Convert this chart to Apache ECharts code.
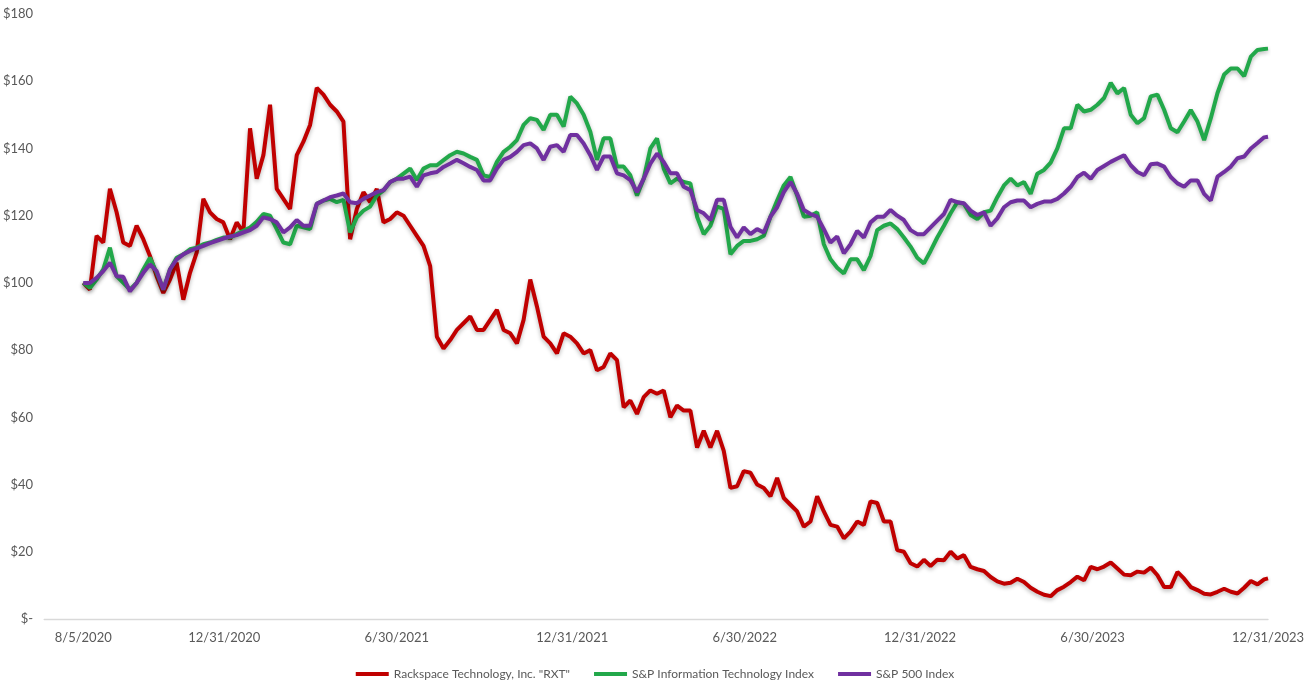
<!DOCTYPE html>
<html>
<head>
<meta charset="utf-8">
<script src="https://cdn.jsdelivr.net/npm/echarts@6/dist/echarts.min.js"></script>
<style>
html,body{margin:0;padding:0;background:#fff;}
#chart{width:1310px;height:688px;}
</style>
</head>
<body>
<div id="chart"></div>
<script>
// Weekly observations starting 8/5/2020, last point 12/31/2023
const startDate = [2020, 8, 5];
const endDate = [2023, 12, 31];
const stepDays = 7;

const seriesNames = ['Rackspace Technology, Inc. "RXT"', 'S&P Information Technology Index', 'S&P 500 Index'];

const rxt = [
  100, 98, 114, 112, 128, 121, 112, 111, 117, 113,
  108, 102, 97, 101, 106, 95, 103, 109, 125, 121,
  119, 118, 113, 118, 115, 146, 131, 138, 153, 128,
  125, 122, 138, 142, 147, 158, 156, 153, 151, 148,
  113, 122, 127, 124, 128, 118, 119, 121, 120, 117,
  114, 111, 105, 84, 80.5, 83, 86, 88, 90, 86,
  86, 89, 92, 86, 85, 82, 89, 101, 93, 84,
  82, 79, 85, 84, 82, 79, 80, 74, 75, 79,
  77, 63, 65, 61, 66, 68, 67, 68, 60, 63.5,
  62, 62, 51, 56, 51, 56, 50, 39, 39.5, 44,
  43.5, 40, 39, 36.5, 42, 36, 34, 32, 27.5, 29,
  36.5, 32, 28, 27.5, 24, 26, 29, 28, 35, 34.5,
  29, 29, 20.5, 20, 16.6, 15.6, 17.6, 15.8, 17.6, 17.5,
  20, 18, 19, 15.5, 14.8, 14.3, 12.5, 11.2, 10.5, 10.8,
  12, 11, 9.3, 8.1, 7.2, 6.8, 8.6, 9.6, 11, 12.6,
  11.5, 15.5, 14.8, 15.6, 16.8, 15, 13.2, 13, 14.1, 13.8,
  15.3, 13, 9.5, 9.5, 14, 12, 9.5, 8.6, 7.5, 7.3,
  8.1, 9, 8.1, 7.6, 9.3, 11.3, 10.3, 11.8, 12.1
];

const spIT = [
  100, 98.5, 101, 104, 110.5, 102, 100, 98, 100, 104,
  107.5, 103, 98, 104, 107.5, 108.5, 110, 110.5, 111.5, 112,
  112.8, 113.5, 113.5, 114.5, 115.5, 116.5, 118.2, 120.5, 120, 116,
  112, 111.5, 117, 116.5, 116, 123.5, 124.5, 125, 124, 124.7,
  115, 119.5, 121.5, 122.7, 126, 127.5, 130, 131, 132.5, 134,
  130.6, 134, 135, 135, 136.5, 138, 139, 138.5, 137.5, 136.6,
  132, 131.5, 136, 139, 140.5, 142.5, 147, 149, 148.5, 145.5,
  150, 150, 146.5, 155.4, 153.4, 150, 145, 136.6, 143, 143,
  134.6, 134.6, 132, 126, 131, 140, 143, 134, 129.6, 131,
  130, 129.6, 119.7, 114.5, 117, 122.7, 122, 108.5, 111, 112.5,
  112.5, 113, 114, 119.7, 124.5, 129, 131.5, 126, 119.7, 120,
  121, 111.5, 107, 104.5, 102.8, 107, 107, 103.8, 108, 115.7,
  117, 117.7, 116, 113.5, 110.8, 107.5, 105.8, 109.5, 113.5, 117,
  120.7, 124, 123.5, 120.2, 119, 121, 121.5, 125.5, 129, 131,
  129, 130, 126.5, 132.5, 133.6, 135.8, 140, 146, 146, 153,
  151, 151.5, 153, 155, 159.5, 156.4, 158, 150, 147.5, 149,
  155.5, 156, 151.5, 146, 144.8, 148, 151.4, 148, 142.5, 149,
  156.5, 162, 163.8, 163.8, 161.5, 167.3, 169.3, 169.6, 169.7
];

const sp500 = [
  100, 100, 101.5, 103.5, 106, 102, 101.8, 97.5, 100, 103,
  105.5, 103.5, 98, 104, 107, 108.5, 109.5, 110.3, 111, 111.8,
  112.5, 113.2, 113.8, 114.2, 115, 115.7, 117, 119.5, 119, 118,
  115, 116.5, 118.7, 117, 117, 123.5, 124.5, 125.5, 126, 126.6,
  124, 123.7, 125, 126, 127, 127.6, 130, 131, 131, 131.6,
  128.6, 132, 132.6, 133, 134.5, 135.5, 136.6, 135.6, 134.5, 133.6,
  130.5, 130.5, 134, 136.6, 137.5, 139, 141, 141.5, 140, 136.6,
  140.5, 141, 139, 144, 144, 141.5, 138, 133.6, 137.6, 137.6,
  132.6, 132, 130.6, 127, 131, 135.5, 138.5, 136, 132.6, 132.6,
  128.6, 127.6, 121.7, 120.7, 118.7, 124.7, 124.7, 116.7, 113.5, 116.5,
  114.5, 116, 115, 119.7, 122.5, 127, 130, 126.5, 121.7, 120.5,
  119.7, 116, 112, 113.8, 108.8, 111.5, 115.5, 113.5, 118, 119.7,
  119.7, 121.7, 120, 118.7, 115.7, 114.5, 114.5, 116.5, 118.5, 120.5,
  124.7, 124, 123.7, 121.5, 120.2, 121, 117, 119.2, 122.5, 124,
  124.5, 124.5, 122.5, 123.5, 124.2, 124.2, 125, 126.6, 128.6, 131.5,
  132.8, 131, 133.6, 134.8, 136, 137, 138, 135, 133, 132,
  135.3, 135.5, 134.6, 131.5, 129.6, 128.6, 130.5, 130.5, 126.5, 124.5,
  131.6, 133, 134.6, 137.1, 137.6, 140, 141.6, 143.3, 143.5
];

const xTickLabels = ['8/5/2020', '12/31/2020', '6/30/2021', '12/31/2021', '6/30/2022', '12/31/2022', '6/30/2023', '12/31/2023'];
const yTicks = [0, 20, 40, 60, 80, 100, 120, 140, 160, 180];

const colors = ['#C00000', '#22A84A', '#7030A0'];

function parseMDY(s) {
  const p = s.split('/').map(Number);
  return new Date(p[2], p[0] - 1, p[1]).getTime();
}

const DAY = 86400000;
const t0 = new Date(startDate[0], startDate[1] - 1, startDate[2]).getTime();
const tEnd = new Date(endDate[0], endDate[1] - 1, endDate[2]).getTime();
const dates = [];
for (let i = 0; i < rxt.length - 1; i++) dates.push(t0 + i * stepDays * DAY);
dates.push(tEnd);

function pairs(vals) { return vals.map((v, i) => [dates[i], v]); }

const chart = echarts.init(document.getElementById('chart'), null, { renderer: 'canvas' });

const lineCommon = (name, vals, color) => ({
  name: name,
  type: 'line',
  data: pairs(vals),
  showSymbol: false,
  symbol: 'none',
  smooth: false,
  color: color,
  lineStyle: {
    width: 4,
    color: color,
    shadowColor: 'rgba(0,0,0,0.28)',
    shadowBlur: 4,
    shadowOffsetY: 2
  },
  emphasis: { disabled: true }
});

chart.setOption({
  animation: false,
  backgroundColor: '#ffffff',
  textStyle: { fontFamily: 'Lato' },
  grid: { left: 44, right: 42, top: 14, bottom: 69 },
  legend: {
    bottom: 3,
    left: 'center',
    icon: 'rect',
    itemWidth: 33,
    itemHeight: 4,
    itemGap: 24,
    textStyle: { color: '#595959', fontSize: 12, fontFamily: 'Lato' },
    data: seriesNames
  },
  xAxis: {
    type: 'value',
    min: t0 - 41 * DAY,
    max: tEnd,
    axisLine: { show: true, lineStyle: { color: '#D9D9D9', width: 1.3 } },
    axisTick: { show: false },
    splitLine: { show: false },
    axisLabel: {
      customValues: xTickLabels.map(parseMDY),
      showMinLabel: true,
      showMaxLabel: true,
      color: '#595959',
      fontSize: 13,
      fontFamily: 'Lato',
      margin: 12,
      formatter: function (v) {
        const d = new Date(v);
        return (d.getMonth() + 1) + '/' + d.getDate() + '/' + d.getFullYear();
      }
    }
  },
  yAxis: {
    type: 'value',
    min: yTicks[0],
    max: yTicks[yTicks.length - 1],
    interval: 20,
    axisLine: { show: false },
    axisTick: { show: false },
    splitLine: { show: false },
    axisLabel: {
      color: '#595959',
      fontSize: 13,
      fontFamily: 'Lato',
      margin: 11,
      formatter: function (v) { return v === 0 ? '$-' : '$' + v; }
    }
  },
  series: [
    lineCommon(seriesNames[0], rxt, colors[0]),
    lineCommon(seriesNames[1], spIT, colors[1]),
    lineCommon(seriesNames[2], sp500, colors[2])
  ]
});
</script>
</body>
</html>
